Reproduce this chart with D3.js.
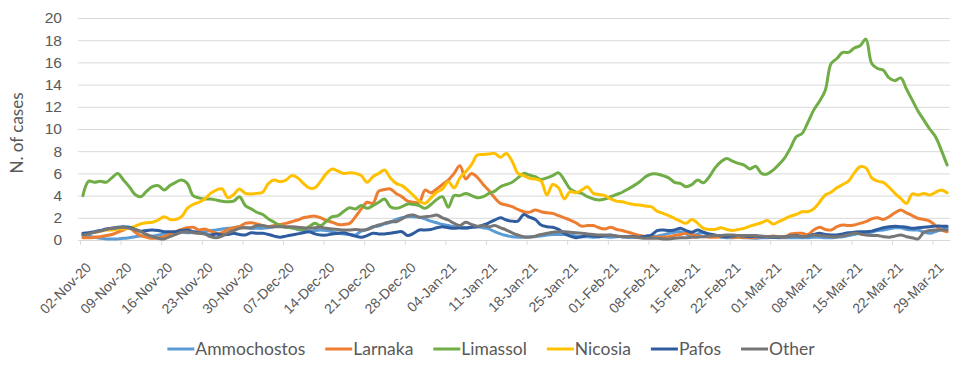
<!DOCTYPE html>
<html>
<head>
<meta charset="utf-8">
<script src="https://cdn.jsdelivr.net/npm/d3@7"></script>
<style>
  body { margin: 0; background: #ffffff; }
  svg { font-family: Lato, "Open Sans", sans-serif; }
</style>
</head>
<body>
<svg id="chart" width="975" height="369"></svg>
<script>
"use strict";

// Data: one value per day, starting on the first date below
var startDate = "02-Nov-20";

var tickLabels = ["02-Nov-20", "09-Nov-20", "16-Nov-20", "23-Nov-20", "30-Nov-20", "07-Dec-20",
  "14-Dec-20", "21-Dec-20", "28-Dec-20", "04-Jan-21", "11-Jan-21", "18-Jan-21", "25-Jan-21",
  "01-Feb-21", "08-Feb-21", "15-Feb-21", "22-Feb-21", "01-Mar-21", "08-Mar-21", "15-Mar-21",
  "22-Mar-21", "29-Mar-21"];

var yTicks = [0, 2, 4, 6, 8, 10, 12, 14, 16, 18, 20];

var ammochostos = [
  0.45, 0.35, 0.25, 0.15, 0.1, 0.1, 0.1, 0.15, 0.2, 0.3,
  0.35, 0.35, 0.35, 0.45, 0.55, 0.6, 0.7, 0.75, 0.65, 0.7,
  0.75, 0.75, 0.85, 0.9, 1.0, 1.05, 1.1, 1.2, 1.1, 1.05,
  1.05, 1.05, 1.1, 1.2, 1.25, 1.15, 1.1, 0.95, 0.85, 0.75,
  0.85, 0.9, 0.85, 0.75, 0.6, 0.55, 0.5, 0.45, 0.8, 0.95,
  1.2, 1.25, 1.45, 1.6, 1.85, 2.0, 2.1, 2.1, 2.05, 1.9,
  1.7, 1.55, 1.4, 1.3, 1.2, 1.1, 1.05, 1.15, 1.2, 1.1,
  1.0, 0.75, 0.55, 0.4, 0.3, 0.25, 0.25, 0.3, 0.3, 0.35,
  0.45, 0.5, 0.5, 0.5, 0.45, 0.35, 0.3, 0.3, 0.25, 0.3,
  0.3, 0.25, 0.3, 0.3, 0.25, 0.3, 0.3, 0.3, 0.3, 0.35,
  0.45, 0.6, 0.7, 0.75, 0.55, 0.35, 0.55, 0.65, 0.5, 0.4,
  0.25, 0.2, 0.2, 0.25, 0.2, 0.2, 0.15, 0.2, 0.2, 0.25,
  0.2, 0.2, 0.2, 0.2, 0.2, 0.2, 0.25, 0.25, 0.2, 0.2,
  0.25, 0.3, 0.4, 0.5, 0.65, 0.65, 0.7, 0.85, 0.9, 1.0,
  1.1, 1.1, 0.95, 0.9, 0.9, 0.7, 0.6, 0.75, 0.95, 1.05];

var larnaka = [
  0.2, 0.2, 0.25, 0.3, 0.4, 0.5, 0.7, 0.9, 1.1, 0.7,
  0.4, 0.25, 0.15, 0.2, 0.3, 0.55, 0.75, 0.95, 1.1, 1.15,
  0.9, 1.0, 0.8, 0.6, 0.65, 0.95, 1.1, 1.2, 1.5, 1.55,
  1.45, 1.3, 1.2, 1.3, 1.4, 1.5, 1.65, 1.8, 2.0, 2.1,
  2.15, 2.0, 1.75, 1.6, 1.4, 1.4, 1.5, 2.1, 2.8, 3.4,
  3.3, 4.4, 4.55, 4.6, 4.2, 3.9, 3.5, 3.4, 3.4, 4.5,
  4.25, 4.6, 5.0, 5.4, 6.0, 6.7, 5.5, 6.0, 5.65, 5.0,
  4.45, 3.8, 3.3, 3.15, 3.0, 2.75, 2.55, 2.5, 2.7, 2.55,
  2.45, 2.4, 2.2, 2.0, 1.8, 1.55, 1.25, 1.3, 1.3, 1.1,
  1.0, 1.15, 0.95, 0.85, 0.7, 0.55, 0.4, 0.3, 0.25, 0.25,
  0.25, 0.3, 0.4, 0.5, 0.6, 0.5, 0.35, 0.3, 0.25, 0.25,
  0.3, 0.3, 0.25, 0.25, 0.25, 0.2, 0.25, 0.3, 0.3, 0.35,
  0.3, 0.25, 0.55, 0.6, 0.6, 0.5, 0.9, 1.15, 0.95, 0.9,
  1.2, 1.35, 1.3, 1.35, 1.5, 1.65, 1.9, 2.0, 1.85, 2.1,
  2.45, 2.7, 2.45, 2.2, 1.95, 1.85, 1.7, 1.3, 0.9, 0.75];

var limassol = [
  4.0, 5.3, 5.2, 5.3, 5.2, 5.6, 6.0, 5.4, 4.8, 4.1,
  3.9, 4.4, 4.8, 4.9, 4.5, 4.9, 5.2, 5.4, 5.1, 4.0,
  3.8, 3.7, 3.7, 3.6, 3.5, 3.45, 3.5, 3.9, 3.1, 2.8,
  2.5, 2.3, 1.9, 1.6, 1.3, 1.15, 1.1, 1.0, 0.95, 1.2,
  1.5, 1.3, 1.7, 2.1, 2.2, 2.6, 2.9, 2.8, 3.1, 2.85,
  3.1, 3.4, 3.7, 3.0, 2.85, 3.0, 3.25, 3.2, 3.1, 2.85,
  3.2, 3.65, 3.9, 2.95, 4.0, 4.0, 4.2, 4.0, 3.8, 3.9,
  4.2, 4.4, 4.8, 5.0, 5.2, 5.6, 6.0, 5.85, 5.7, 5.45,
  5.6, 5.8, 6.05, 5.4, 4.6, 4.3, 4.2, 3.9, 3.7, 3.6,
  3.7, 3.9, 4.1, 4.3, 4.6, 4.9, 5.25, 5.7, 5.95, 5.95,
  5.8, 5.6, 5.2, 5.1, 4.8, 5.0, 5.4, 5.15, 5.7, 6.5,
  7.05, 7.35, 7.1, 6.9, 6.75, 6.4, 6.65, 6.0, 5.95, 6.3,
  6.8, 7.4, 8.3, 9.3, 9.6, 10.6, 11.7, 12.5, 13.5, 15.9,
  16.35, 16.9, 16.9, 17.3, 17.5, 18.1, 15.9, 15.45, 15.3, 14.6,
  14.35, 14.6, 13.6, 12.6, 11.6, 10.8, 10.0, 9.3, 8.1, 6.75];

var nicosia = [
  0.5, 0.6, 0.7, 0.8, 0.9, 0.9, 1.0, 1.0, 1.1, 1.25,
  1.45, 1.55, 1.6, 1.8, 2.1, 1.85, 1.85, 2.1, 2.85, 3.2,
  3.4, 3.7, 4.2, 4.5, 4.6, 3.8, 4.1, 4.6, 4.2, 4.15,
  4.2, 4.3, 5.1, 5.4, 5.25, 5.4, 5.8, 5.6, 5.1, 4.7,
  4.7, 5.3, 6.0, 6.4, 6.2, 6.0, 6.05, 6.0, 5.8, 5.2,
  5.7, 6.0, 6.3, 5.6, 5.1, 4.9, 4.5, 4.0, 3.5, 3.3,
  3.8, 4.3, 4.6, 5.25, 4.7, 5.6, 6.15, 6.8, 7.65, 7.7,
  7.75, 7.8, 7.45, 7.8, 7.1, 6.0, 5.8, 5.55, 5.5, 5.3,
  4.05, 5.0, 4.7, 3.7, 4.35, 4.25, 4.5, 4.8, 4.2, 4.1,
  4.0, 3.7, 3.5, 3.45, 3.3, 3.2, 3.15, 3.05, 3.0, 2.6,
  2.4, 2.2, 1.95, 1.7, 1.5, 1.85, 1.5, 1.05, 0.95, 0.95,
  1.1, 0.95, 0.85, 0.95, 1.05, 1.25, 1.4, 1.55, 1.75, 1.45,
  1.65, 1.9, 2.15, 2.3, 2.55, 2.55, 2.8, 3.4, 4.05, 4.3,
  4.7, 5.0, 5.3, 6.05, 6.6, 6.5, 5.6, 5.3, 5.2, 4.75,
  4.2, 3.75, 3.3, 4.15, 4.05, 4.2, 4.05, 4.3, 4.5, 4.25];

var pafos = [
  0.6, 0.65, 0.75, 0.85, 1.0, 1.05, 1.15, 1.2, 1.15, 0.95,
  0.8, 0.85, 0.9, 0.85, 0.75, 0.75, 0.75, 0.85, 0.9, 0.75,
  0.65, 0.55, 0.45, 0.55, 0.45, 0.5, 0.6, 0.5, 0.45, 0.65,
  0.6, 0.6, 0.5, 0.35, 0.25, 0.35, 0.45, 0.55, 0.65, 0.75,
  0.55, 0.45, 0.45, 0.55, 0.6, 0.65, 0.5, 0.35, 0.25, 0.4,
  0.6, 0.55, 0.55, 0.6, 0.7, 0.75, 0.4, 0.6, 0.9, 0.9,
  0.95, 1.1, 1.2, 1.1, 1.05, 1.1, 1.1, 1.15, 1.2, 1.35,
  1.55, 1.8, 2.0, 1.8, 1.7, 1.7, 2.3, 2.05, 1.85, 1.35,
  1.2, 1.15, 0.95, 0.6, 0.35, 0.2, 0.3, 0.4, 0.35, 0.3,
  0.4, 0.45, 0.35, 0.3, 0.3, 0.3, 0.25, 0.35, 0.45, 0.85,
  0.9, 0.85, 0.9, 1.05, 0.85, 0.7, 0.9, 0.7, 0.55, 0.45,
  0.35, 0.3, 0.35, 0.4, 0.35, 0.3, 0.35, 0.3, 0.3, 0.25,
  0.25, 0.3, 0.35, 0.4, 0.3, 0.35, 0.5, 0.6, 0.5, 0.45,
  0.45, 0.55, 0.65, 0.7, 0.75, 0.75, 0.8, 0.95, 1.1, 1.2,
  1.25, 1.2, 1.15, 1.05, 1.1, 1.15, 1.2, 1.25, 1.25, 1.25];

var other = [
  0.45, 0.55, 0.7, 0.8, 0.95, 1.05, 1.1, 1.15, 1.05, 0.95,
  0.75, 0.5, 0.3, 0.15, 0.1, 0.3, 0.5, 0.7, 0.75, 0.65,
  0.6, 0.55, 0.3, 0.2, 0.35, 0.65, 0.85, 1.05, 1.1, 1.1,
  1.3, 1.3, 1.2, 1.2, 1.2, 1.2, 1.2, 1.15, 1.1, 1.05,
  1.1, 1.15, 1.05, 1.0, 0.95, 0.9, 0.9, 0.95, 0.9, 0.95,
  1.15, 1.35, 1.5, 1.65, 1.65, 1.9, 2.2, 2.25, 2.05, 2.1,
  2.15, 2.25, 2.0, 1.8, 1.5, 1.3, 1.6, 1.4, 1.25, 1.3,
  1.2, 1.3, 1.1, 0.9, 0.65, 0.45, 0.3, 0.25, 0.35, 0.5,
  0.6, 0.7, 0.75, 0.75, 0.7, 0.65, 0.6, 0.55, 0.5, 0.45,
  0.45, 0.4, 0.35, 0.3, 0.3, 0.25, 0.2, 0.15, 0.15, 0.15,
  0.1, 0.1, 0.15, 0.2, 0.2, 0.25, 0.25, 0.3, 0.35, 0.4,
  0.4, 0.45, 0.45, 0.4, 0.4, 0.4, 0.4, 0.35, 0.3, 0.3,
  0.3, 0.3, 0.35, 0.35, 0.3, 0.35, 0.45, 0.4, 0.35, 0.3,
  0.3, 0.35, 0.5, 0.6, 0.55, 0.45, 0.4, 0.4, 0.3, 0.25,
  0.35, 0.45, 0.3, 0.2, 0.1, 0.7, 0.85, 0.9, 0.9, 0.9];

var seriesNames = ["Ammochostos", "Larnaka", "Limassol", "Nicosia", "Pafos", "Other"];
var seriesValues = [ammochostos, larnaka, limassol, nicosia, pafos, other];
var seriesColors = ["#5B9BD5", "#ED7D31", "#70AD47", "#FFC000", "#2E5C9E", "#767676"];

// Layout
var svg = d3.select("#chart");
var plot = {left: 78, right: 950, top: 18, bottom: 240};
var textColor = "#595959";
var gridColor = "#d9d9d9";

var parseDay = d3.utcParse("%d-%b-%y");
var day0 = parseDay(startDate);
var days = limassol.map((v, i) => d3.utcDay.offset(day0, i));

// Scales (each day occupies one slot, points sit in the middle of it)
var x = d3.scaleUtc()
  .domain([day0, d3.utcDay.offset(day0, limassol.length)])
  .range([80, plot.right]);

var y = d3.scaleLinear()
  .domain([0, 20])
  .range([plot.bottom, plot.top]);

// Y axis with gridlines
var yAxis = svg.append("g")
  .attr("transform", `translate(${plot.left},0)`)
  .call(d3.axisLeft(y)
    .tickValues(yTicks)
    .tickSize(-(plot.right - plot.left))
    .tickPadding(16));
yAxis.select(".domain").remove();
yAxis.selectAll("line").attr("stroke", gridColor).attr("stroke-width", 1);
yAxis.selectAll("text")
  .attr("fill", textColor)
  .style("font-size", "15.5px");

// X axis
var xAxis = svg.append("g")
  .attr("transform", `translate(0,${plot.bottom})`)
  .call(d3.axisBottom(x)
    .tickValues(tickLabels.map(parseDay))
    .tickFormat((d, i) => tickLabels[i])
    .tickSize(5));
xAxis.select(".domain")
  .attr("d", `M${plot.left},0.5H${plot.right}`)
  .attr("stroke", gridColor);
xAxis.selectAll("line").attr("stroke", gridColor);
xAxis.selectAll("text")
  .attr("x", 0)
  .attr("y", 0)
  .attr("dy", "0.35em")
  .attr("text-anchor", "end")
  .attr("transform", "translate(8,25) rotate(-45)")
  .attr("fill", textColor)
  .style("font-size", "14px");

// Y axis title
svg.append("text")
  .attr("transform", "translate(17,133) rotate(-90)")
  .attr("dy", "0.35em")
  .attr("text-anchor", "middle")
  .attr("fill", textColor)
  .style("font-size", "17px")
  .text("N. of cases");

// Lines
var line = d3.line()
  .x((d, i) => x(d3.utcHour.offset(days[i], 12)))
  .y(d => y(d))
  .curve(d3.curveCatmullRom.alpha(0.5));

svg.append("g")
  .selectAll("path")
  .data(seriesValues)
  .enter()
  .append("path")
    .attr("fill", "none")
    .attr("stroke", (d, i) => seriesColors[i])
    .attr("stroke-width", 3)
    .attr("stroke-linejoin", "round")
    .attr("stroke-linecap", "round")
    .attr("d", d => line(d));

// Legend
var legend = svg.append("g");
var items = legend.selectAll("g")
  .data(seriesNames)
  .enter()
  .append("g");

items.append("line")
  .attr("x1", 0)
  .attr("x2", 27)
  .attr("y1", 0)
  .attr("y2", 0)
  .attr("stroke", (d, i) => seriesColors[i])
  .attr("stroke-width", 3);

items.append("text")
  .attr("x", 28)
  .attr("dy", "0.35em")
  .attr("fill", textColor)
  .style("font-size", "17.5px")
  .text(d => d);

var offsets = [];
var pos = 0;
items.each(function () {
  offsets.push(pos);
  pos += 28 + this.querySelector("text").getComputedTextLength() + 20;
});
var legendWidth = pos - 20;
items.attr("transform", (d, i) => `translate(${offsets[i]},0)`);
legend.attr("transform", `translate(${491 - legendWidth / 2},349)`);
</script>
</body>
</html>
